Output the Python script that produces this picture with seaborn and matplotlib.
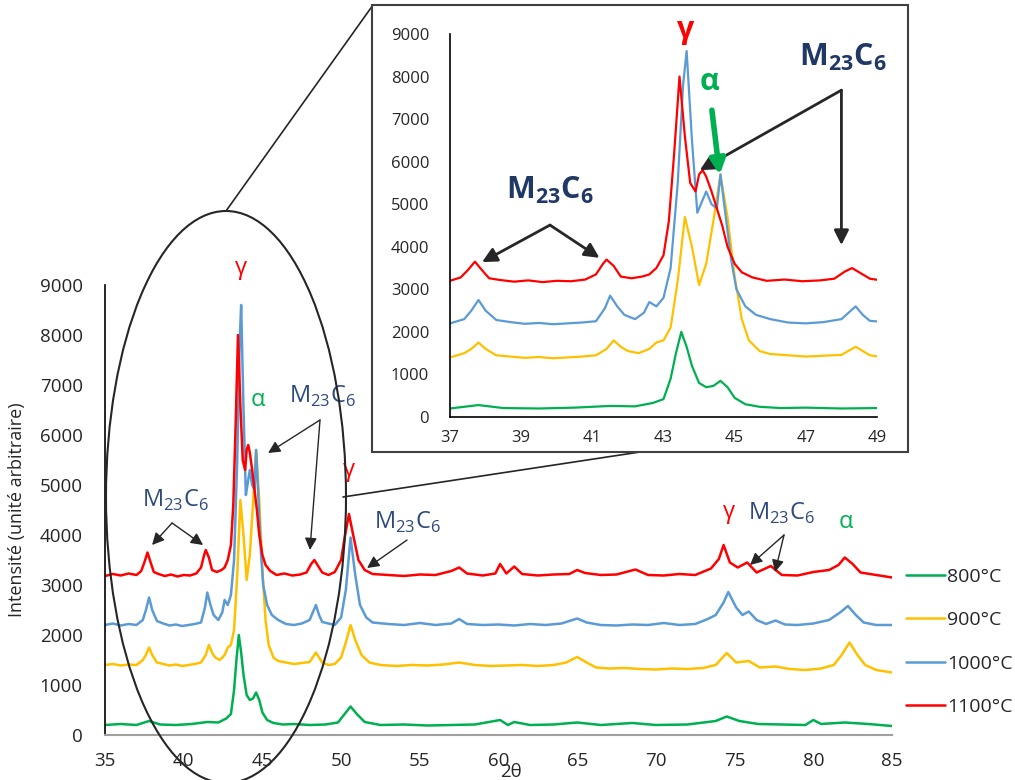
import numpy as np
import pandas as pd
import matplotlib
matplotlib.use('Agg')
import matplotlib.pyplot as plt
import seaborn as sns
from matplotlib.patches import Ellipse, Rectangle
from matplotlib.lines import Line2D

# XRD patterns (2theta, intensity)
x_800 = [35, 36, 37, 37.8, 38.5, 39.5, 40.5, 41.5, 42.2, 42.7,
         43.0, 43.2, 43.35, 43.5, 43.65, 43.8, 44.0, 44.2, 44.4, 44.6,
         44.8, 45.0, 45.3, 45.7, 46.3, 47, 48, 49, 49.8, 50.3,
         50.6, 51.0, 51.5, 52.5, 54, 55.5, 57, 58.5, 60.1, 60.6,
         61, 62, 63.5, 65, 66.5, 68.5, 70, 72, 73.8, 74.5,
         75.3, 76.5, 78, 79.5, 80, 80.5, 82, 83.5, 85]
y_800 = [200, 220, 200, 280, 210, 200, 220, 260, 250, 330,
         420, 900, 1500, 2000, 1650, 1200, 800, 700, 730, 850,
         700, 450, 300, 240, 210, 220, 200, 210, 250, 450,
         570, 420, 260, 200, 210, 190, 200, 210, 300, 200,
         260, 200, 210, 250, 200, 240, 200, 210, 280, 370,
         280, 220, 210, 200, 300, 220, 250, 220, 180]

x_900 = [35, 35.5, 36, 36.5, 37, 37.4, 37.6, 37.8, 38.0, 38.3,
         38.7, 39.1, 39.5, 39.9, 40.3, 40.7, 41.1, 41.4, 41.6, 41.8,
         42.0, 42.3, 42.6, 42.8, 43.0, 43.2, 43.4, 43.6, 43.8, 44.0,
         44.2, 44.4, 44.6, 44.8, 45.0, 45.2, 45.4, 45.7, 46.0, 46.5,
         47.0, 47.5, 48.0, 48.4, 48.8, 49.2, 49.6, 50.0, 50.3, 50.6,
         50.9, 51.3, 51.8, 52.5, 53.5, 54.5, 55.5, 56.5, 57.5, 58.5,
         59.5, 60.5, 61.5, 62.5, 63.5, 64.3, 65.0, 65.6, 66.2, 67,
         68, 69, 70, 71, 72, 73, 73.8, 74.5, 75.1, 75.9,
         76.6, 77.6, 78.5, 79.5, 80.5, 81.3, 81.8, 82.3, 82.8, 83.3,
         84, 85]
y_900 = [1400, 1420, 1390, 1410, 1400, 1500, 1600, 1750, 1600, 1450,
         1420, 1390, 1410, 1380, 1400, 1420, 1450, 1600, 1800, 1650,
         1550, 1500, 1600, 1750, 1800, 2100, 3200, 4700, 4000, 3100,
         3600, 4600, 5700, 4700, 3300, 2300, 1800, 1550, 1480, 1450,
         1420, 1440, 1460, 1650, 1450, 1400, 1420, 1550, 1850, 2200,
         1900, 1600, 1450, 1400, 1380, 1400, 1390, 1410, 1450, 1400,
         1380, 1390, 1400, 1380, 1400, 1450, 1560, 1450, 1350, 1330,
         1340, 1320, 1310, 1330, 1320, 1340, 1400, 1640, 1450, 1480,
         1350, 1370, 1320, 1300, 1330, 1400, 1600, 1850, 1600, 1400,
         1300, 1250]

x_1000 = [35, 35.5, 36, 36.5, 37, 37.4, 37.6, 37.8, 38.0, 38.3,
          38.7, 39.1, 39.5, 39.9, 40.3, 40.7, 41.1, 41.35, 41.5, 41.7,
          41.9, 42.2, 42.45, 42.6, 42.8, 43.0, 43.2, 43.4, 43.55, 43.65,
          43.8, 43.95, 44.05, 44.2, 44.35, 44.5, 44.6, 44.75, 44.9, 45.05,
          45.3, 45.6, 46.0, 46.5, 47.0, 47.5, 48.0, 48.2, 48.4, 48.6,
          48.8, 49.2, 49.6, 50.0, 50.3, 50.6, 50.9, 51.2, 51.6, 52,
          53, 54, 55, 56, 57, 57.5, 58, 59, 60, 61,
          62, 63, 64, 65, 65.6, 66.5, 67.5, 68.5, 69.5, 70.5,
          71.5, 72.5, 73.3, 73.8, 74.3, 74.6, 75.1, 75.5, 75.9, 76.4,
          77, 77.6, 78.2, 79, 80, 81, 81.7, 82.2, 82.7, 83.2,
          84, 85]
y_1000 = [2200, 2230, 2190, 2220, 2200, 2300, 2500, 2750, 2500, 2280,
          2230, 2190, 2210, 2180, 2200, 2220, 2250, 2550, 2850, 2600,
          2400, 2300, 2450, 2700, 2600, 2800, 3500, 5500, 7800, 8600,
          6500, 4800, 5000, 5300, 5000, 4900, 5700, 4700, 3700, 3000,
          2600, 2400, 2300, 2220, 2200, 2230, 2300, 2450, 2600, 2400,
          2260, 2230, 2200, 2350, 2900, 3950, 3200, 2600, 2350, 2250,
          2220, 2200, 2240, 2200, 2230, 2320, 2220, 2200, 2210, 2190,
          2220, 2200, 2230, 2330, 2250, 2200, 2190, 2210, 2200, 2240,
          2200, 2220, 2320, 2400, 2650, 2860, 2550, 2400, 2470, 2300,
          2220, 2290, 2210, 2200, 2230, 2300, 2450, 2580, 2400, 2250,
          2200, 2200]

x_1100 = [35, 35.5, 36, 36.5, 37, 37.3, 37.5, 37.7, 37.9, 38.1,
          38.4, 38.8, 39.2, 39.6, 40.0, 40.4, 40.8, 41.1, 41.3, 41.4,
          41.6, 41.8, 42.1, 42.4, 42.6, 42.8, 43.0, 43.15, 43.3, 43.45,
          43.6, 43.75, 43.9, 44.0, 44.1, 44.2, 44.35, 44.5, 44.65, 44.8,
          45.0, 45.2, 45.5, 45.9, 46.4, 46.9, 47.4, 47.8, 48.1, 48.3,
          48.5, 48.8, 49.2, 49.6, 50.0, 50.2, 50.5, 50.8, 51.1, 51.5,
          52, 53, 54, 55, 56, 57, 57.5, 58, 59, 59.8,
          60.1, 60.5, 61.0, 61.5, 62.5, 63.5, 64.5, 65, 65.5, 66.5,
          67.5, 68.7, 69.5, 70.5, 71.5, 72.5, 73.5, 74.0, 74.3, 74.7,
          75.2, 75.8, 76.4, 77.3, 78, 79, 80, 81, 81.6, 82.0,
          82.5, 83, 84, 85]
y_1100 = [3180, 3220, 3190, 3230, 3200, 3280, 3450, 3650, 3450, 3260,
          3220, 3180, 3210, 3170, 3200, 3190, 3230, 3350, 3600, 3700,
          3550, 3300, 3260, 3300, 3350, 3500, 3800, 4600, 6200, 8000,
          6600, 5500, 5300, 5700, 5800, 5650, 5300, 4900, 4500, 4000,
          3600, 3400, 3280, 3200, 3230, 3190, 3210, 3250, 3420, 3500,
          3400, 3250, 3200, 3260, 3500, 3900, 4420, 3950, 3500, 3300,
          3220, 3200, 3180, 3210, 3200, 3280, 3350, 3230, 3190, 3230,
          3420, 3230, 3370, 3220, 3190, 3210, 3220, 3300, 3240, 3200,
          3210, 3310, 3200, 3190, 3220, 3200, 3330, 3520, 3800, 3450,
          3350, 3450, 3250, 3380, 3200, 3190, 3260, 3300, 3400, 3550,
          3420, 3250, 3200, 3150]

series = ['800°C', '900°C', '1000°C', '1100°C']
colors = ['#00B050', '#FFC000', '#5B9BD5', '#FF0000']
x_ticks = list(range(35, 86, 5))
x_ticks_inset = list(range(37, 50, 2))
y_ticks = list(range(0, 9001, 1000))

frames = []
for name, xs, ys in zip(series, [x_800, x_900, x_1000, x_1100], [y_800, y_900, y_1000, y_1100]):
    frames.append(pd.DataFrame({'2θ': xs, 'I': ys, 'T': name}))
df = pd.concat(frames, ignore_index=True)

sns.set_style('white')
plt.rcParams['font.family'] = ['Open Sans', 'DejaVu Sans']
plt.rcParams['axes.unicode_minus'] = False

M23C6 = r'M$_{\mathregular{23}}$C$_{\mathregular{6}}$'
navy = '#2E4A7D'
navy_dark = '#1F3864'
dark = '#262626'

fig = plt.figure(figsize=(10.15, 7.8), dpi=100)

# ---- main chart
ax = fig.add_axes([105/1015, 1 - 735/780, 787/1015, 450/780])
sns.lineplot(data=df, x='2θ', y='I', hue='T', palette=colors, ax=ax,
             linewidth=1.8, estimator=None, sort=False)
ax.set_xlim(35, 85)
ax.set_ylim(0, 9000)
ax.set_xticks(x_ticks)
ax.set_yticks(y_ticks)
ax.tick_params(axis='both', length=0, labelsize=13.5, labelcolor=dark)
ax.tick_params(axis='y', pad=16)
ax.tick_params(axis='x', pad=12)
for s in ['top', 'right']:
    ax.spines[s].set_visible(False)
ax.spines['left'].set_color('black')
ax.spines['left'].set_linewidth(1.2)
ax.spines['bottom'].set_color('#a0a0a0')
ax.spines['bottom'].set_linewidth(1.5)
ax.set_xlabel('2θ', fontsize=13.5, color=dark)
ax.xaxis.set_label_coords(0.516, -0.063)
ax.set_ylabel('Intensité (unité arbitraire)', fontsize=13, color=dark)
ax.yaxis.set_label_coords(-0.10, 0.5)

handles, labels = ax.get_legend_handles_labels()
ax.legend(handles, labels, loc='upper left', bbox_to_anchor=(906/1015, 1 - 568/780),
          bbox_transform=fig.transFigure, frameon=False, fontsize=14,
          handlelength=2.0, handletextpad=0.1, labelspacing=1.3,
          borderaxespad=0, borderpad=0)

def arrow(a, start, end, color=dark, lw=1.0, ms=18):
    a.annotate('', xy=end, xytext=start,
               arrowprops=dict(arrowstyle='-|>', color=color, lw=lw,
                               mutation_scale=ms, shrinkA=0, shrinkB=0))

ax.text(43.64, 9340, 'γ', color='#FF0000', fontsize=17, ha='center', va='center')
ax.text(44.72, 6700, 'α', color='#00B050', fontsize=17, ha='center', va='center')
ax.text(48.79, 6780, M23C6, color=navy, fontsize=17, ha='center', va='center')
ax.text(39.45, 4700, M23C6, color=navy, fontsize=17, ha='center', va='center')
ax.text(50.5, 5300, 'γ', color='#FF0000', fontsize=17, ha='center', va='center')
ax.text(54.19, 4260, M23C6, color=navy, fontsize=17, ha='center', va='center')
ax.text(74.64, 4460, 'γ', color='#FF0000', fontsize=17, ha='center', va='center')
ax.text(78.0, 4440, M23C6, color=navy, fontsize=17, ha='center', va='center')
ax.text(82.08, 4260, 'α', color='#00B050', fontsize=17, ha='center', va='center')

arrow(ax, (39.26, 4240), (37.99, 3800))
arrow(ax, (39.26, 4240), (41.23, 3800))
arrow(ax, (48.66, 6300), (45.36, 5640))
arrow(ax, (48.66, 6300), (48.02, 3700))
arrow(ax, (54.19, 3900), (51.65, 3340))
arrow(ax, (78.14, 4000), (75.98, 3400))
arrow(ax, (78.14, 4000), (77.57, 3260))

# ---- zoom ellipse, connectors and inset frame
fig.add_artist(Ellipse((226/1015, 1 - 497/780), 240/1015, 572/780,
                       transform=fig.transFigure, fill=False,
                       edgecolor=dark, linewidth=1.5, zorder=3))
fig.add_artist(Line2D([226/1015, 373/1015], [1 - 211/780, 1 - 5/780],
                      transform=fig.transFigure, color=dark, linewidth=1.2, zorder=3))
fig.add_artist(Line2D([343/1015, 640/1015], [1 - 497/780, 1 - 452/780],
                      transform=fig.transFigure, color=dark, linewidth=1.2, zorder=3))
fig.add_artist(Rectangle((372/1015, 1 - 452/780), 536/1015, 447/780,
                         transform=fig.transFigure, facecolor='white',
                         edgecolor='#404040', linewidth=1.5, zorder=4))

# ---- inset
ins = fig.add_axes([450/1015, 1 - 417/780, 427/1015, 383/780])
ins.set_zorder(5)
ins.patch.set_alpha(0)
sns.lineplot(data=df, x='2θ', y='I', hue='T', palette=colors, ax=ins,
             linewidth=1.6, estimator=None, sort=False, legend=False)
ins.set_xlim(37, 49)
ins.set_ylim(0, 9000)
ins.set_xticks(x_ticks_inset)
ins.set_yticks(y_ticks)
ins.tick_params(axis='both', length=0, labelsize=12, labelcolor=dark)
ins.tick_params(axis='y', pad=15)
ins.tick_params(axis='x', pad=9)
for s in ['top', 'right']:
    ins.spines[s].set_visible(False)
for s in ['left', 'bottom']:
    ins.spines[s].set_color('black')
    ins.spines[s].set_linewidth(1.2)
ins.set_xlabel('')
ins.set_ylabel('')

ins.text(43.63, 9090, 'γ', color='#FF0000', fontsize=22, fontweight='bold', ha='center', va='center')
ins.text(44.30, 7870, 'α', color='#00B050', fontsize=22, fontweight='bold', ha='center', va='center')
ins.text(48.04, 8460, M23C6, color=navy_dark, fontsize=22, fontweight='bold', ha='center', va='center')
ins.text(39.81, 5330, M23C6, color=navy_dark, fontsize=22, fontweight='bold', ha='center', va='center')

arrow(ins, (39.81, 4510), (37.9, 3640), lw=2, ms=22)
arrow(ins, (39.81, 4510), (41.2, 3740), lw=2, ms=22)
arrow(ins, (48.0, 7680), (44.02, 5800), lw=2, ms=22)
arrow(ins, (48.0, 7680), (48.0, 4040), lw=2, ms=22)
arrow(ins, (44.36, 7210), (44.58, 5690), color='#00B050', lw=4, ms=22)

fig.savefig('out.png', dpi=100)
